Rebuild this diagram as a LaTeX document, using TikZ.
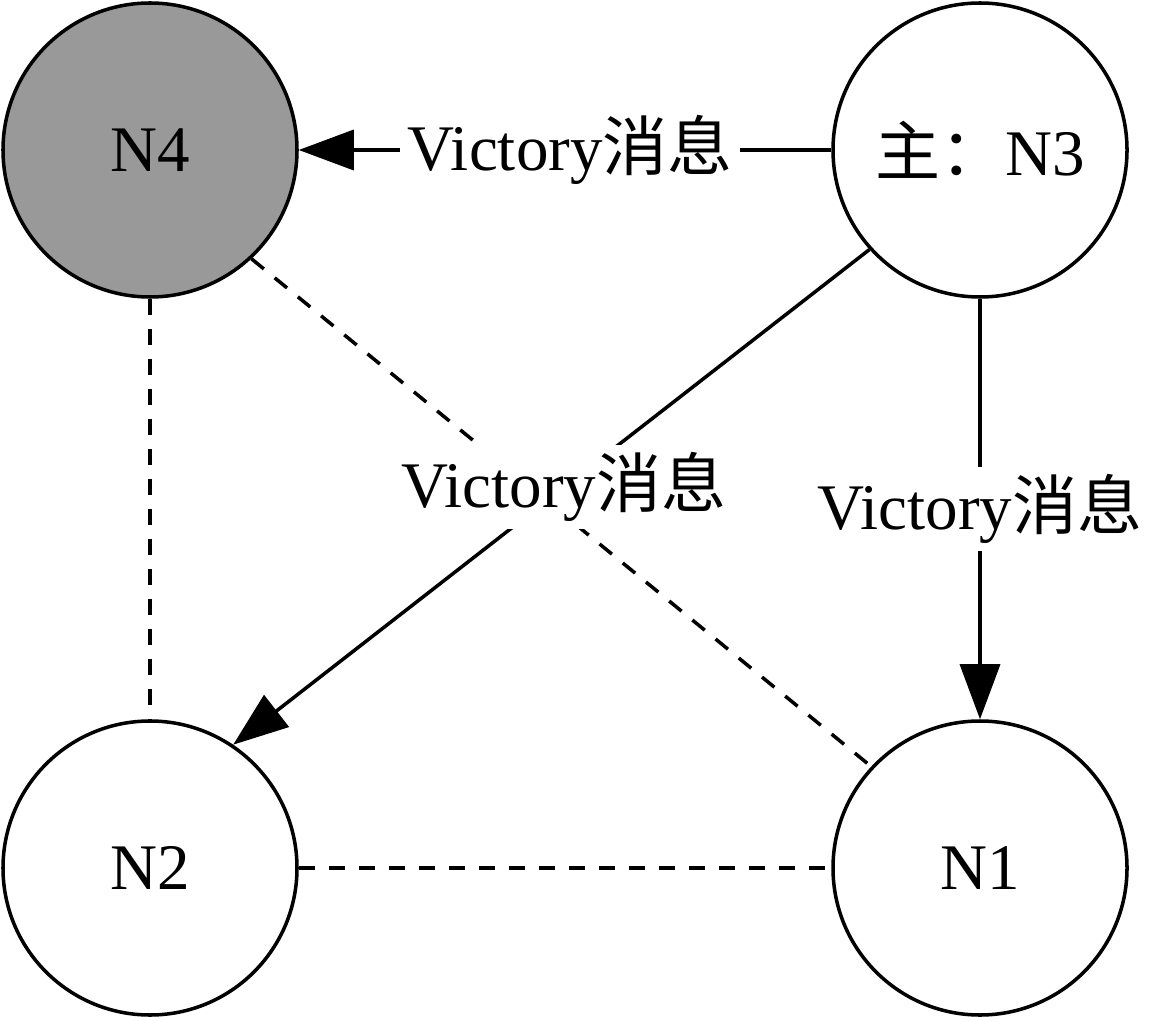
\documentclass[tikz,border=0pt]{standalone}
\usepackage{fontspec}
\setmainfont{Liberation Serif}
\newfontfamily\cjk{Noto Sans CJK SC}
\usetikzlibrary{arrows.meta,positioning}

\begin{document}
\begin{tikzpicture}[node distance=16.6cm, line width=2pt,
                    main node/.style={circle,draw,minimum size=5.88cm,inner sep=0pt,font=\fontsize{37}{44}\selectfont},
                    msg/.style={fill=white,inner sep=0.15cm,font=\fontsize{37}{44}\selectfont},
                    dash line/.style={dash pattern=on 0.32cm off 0.28cm},
                    msg arrow/.style={-{Triangle[length=1.1cm,width=0.8cm]}}]
  \useasboundingbox (0,0) rectangle (23.22,20.4);

  \node[main node,fill=black!40] (N4) at (3,17.4) {N4};
  \node[main node] (N3) [right of=N4] {{\cjk 主：}N3};
  \node[main node] (N2) [below of=N4, node distance=14.36cm] {N2};
  \node[main node] (N1) [right of=N2] {N1};

  % dashed links
  \path[dash line]
    (N4) edge (N2)
    (N2) edge (N1)
    (N4.313) edge (N1.137);

  % victory messages from the master
  \path[msg arrow,every node/.style={msg}]
    (N3) edge node [pos=0.49] {Victory{\cjk 消息}} (N4)
    (N3.222) edge node [pos=0.48] {Victory{\cjk 消息}} (N2.56)
    (N3) edge node [pos=0.5] {Victory{\cjk 消息}} (N1);
\end{tikzpicture}
\end{document}
